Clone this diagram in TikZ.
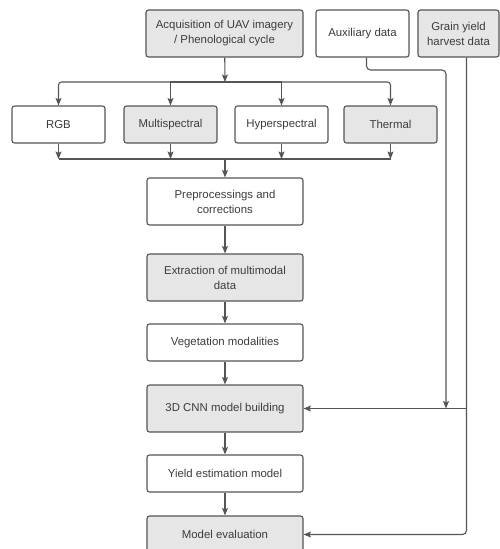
\documentclass[tikz,border=0pt]{standalone}
\usepackage{fontspec}
\setmainfont{Liberation Sans}
\usepackage{tikz}
\usetikzlibrary{arrows.meta}
\definecolor{edge}{HTML}{555555}
\definecolor{shade}{HTML}{E6E6E6}
\definecolor{ink}{HTML}{3C3C3C}

\begin{document}
\begin{tikzpicture}[x=1pt,y=1pt,node distance=65pt,>={Stealth[length=7.5pt,width=6pt,inset=1.5pt]},
  font=\fontsize{11.4}{15}\selectfont,
  box/.style={draw=edge,line width=1.1pt,rounded corners=2.5pt,fill=white,text=ink,minimum width=93pt,minimum height=37pt,align=center,inner sep=2pt},
  gbox/.style={box,fill=shade},
  wide/.style={minimum width=156pt},
  tall/.style={minimum height=47pt},
  link/.style={draw=edge,line width=1.1pt}]
  \useasboundingbox (0,0) rectangle (499,-549);
  \node[gbox,wide,tall,minimum width=157pt] (acq) at (224.5,-33.5) {Acquisition of UAV imagery\\/ Phenological cycle};
  \node[box,tall,right of=acq,xshift=73pt] (aux) {Auxiliary data};
  \node[gbox,tall,minimum width=81pt,right of=aux,xshift=31pt] (grain) {Grain yield\\harvest data};
  \node[gbox,below of=acq,xshift=-54pt,yshift=-26pt] (multi) {Multispectral};
  \node[box,left of=multi,xshift=-47pt] (rgb) {RGB};
  \node[box,right of=multi,xshift=46pt] (hyper) {Hyperspectral};
  \node[gbox,right of=hyper,xshift=44pt] (thermal) {Thermal};
  \node[box,wide,tall,below of=acq,xshift=0.5pt,yshift=-103pt] (prep) {Preprocessings and\\corrections};
  \node[gbox,wide,tall,below of=prep,yshift=-11pt] (extr) {Extraction of multimodal\\data};
  \node[box,wide,below of=extr] (veg) {Vegetation modalities};
  \node[gbox,wide,tall,below of=veg,yshift=-1pt] (cnn) {3D CNN model building};
  \node[box,wide,below of=cnn] (yield) {Yield estimation model};
  \node[gbox,wide,below of=yield,yshift=4pt] (eval) {Model evaluation};
  \coordinate (split) at (225,-82);
  \coordinate (merge) at (225,-159);
  \coordinate (auxc) at (446,-70);
  \draw[->,link] (acq) -- (split);
  \draw[->,link,rounded corners=3pt] (split) -| (rgb);
  \draw[->,link] (split) -| (multi);
  \draw[->,link] (split) -| (hyper);
  \draw[->,link,rounded corners=3pt] (split) -| (thermal);
  \draw[->,link] (rgb) -- (rgb |- merge);
  \draw[->,link] (multi) -- (multi |- merge);
  \draw[->,link] (hyper) -- (hyper |- merge);
  \draw[->,link] (thermal) -- (thermal |- merge);
  \draw[link] (rgb |- merge) -- (thermal |- merge);
  \draw[->,link] (merge) -- (prep);
  \draw[->,link] (prep) -- (extr);
  \draw[->,link] (extr) -- (veg);
  \draw[->,link] (veg) -- (cnn);
  \draw[->,link] (cnn) -- (yield);
  \draw[->,link] (yield) -- (eval);
  \draw[->,link,rounded corners=4pt] ([xshift=4pt]aux.south) |- (auxc) -- (auxc |- cnn);
  \draw[->,link,rounded corners=4pt] ([xshift=8pt]grain.south) |- (eval);
  \draw[->,link] ([xshift=8pt]grain.south |- cnn) -- (cnn);
\end{tikzpicture}
\end{document}
